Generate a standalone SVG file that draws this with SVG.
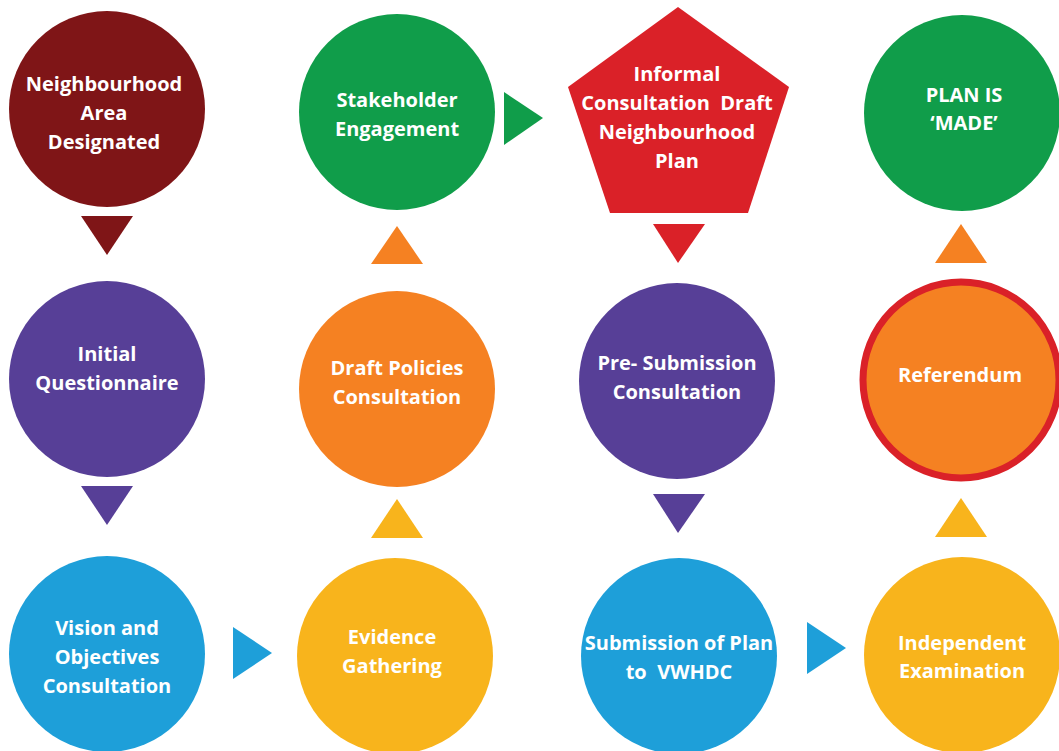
<svg xmlns="http://www.w3.org/2000/svg" width="1059" height="751" viewBox="0 0 1059 751">
<style>
text{font-family:"Open Sans","Noto Sans","Liberation Sans",sans-serif;font-weight:700;font-size:20px;fill:#ffffff;text-anchor:middle}
.dred{fill:#7f1517}.purple{fill:#573f97}.blue{fill:#1e9fd9}.green{fill:#109d4a}.orange{fill:#f58122}.yellow{fill:#f8b41c}.red{fill:#da2128}
</style>
<rect width="1059" height="751" fill="#ffffff"/>
<g id="connectors">
<polygon class="dred" points="81,216 133,216 107,255"/>
<polygon class="purple" points="81,486 133,486 107,525"/>
<polygon class="blue" points="233,627 233,679 272,653"/>
<polygon class="yellow" points="371,538 423,538 397,499"/>
<polygon class="orange" points="371,264 423,264 397,226"/>
<polygon class="green" points="504,92 504,145 543,118"/>
<polygon class="red" points="653,224 705,224 678,263"/>
<polygon class="purple" points="653,494 705,494 678,533"/>
<polygon class="blue" points="807,622 807,674 846,648"/>
<polygon class="yellow" points="935,537 987,537 961,498"/>
<polygon class="orange" points="935,263 987,263 961,224"/>
</g>
<g id="node-neighbourhood-area">
<circle class="dred" cx="107" cy="109" r="98"/>
<text x="104" y="91">Neighbourhood</text>
<text x="104" y="120">Area</text>
<text x="104" y="149">Designated</text>
</g>
<g id="node-initial-questionnaire">
<circle class="purple" cx="107" cy="379" r="98"/>
<text x="107" y="361">Initial</text>
<text x="107" y="390">Questionnaire</text>
</g>
<g id="node-vision">
<circle class="blue" cx="107" cy="654" r="98"/>
<text x="107" y="635">Vision and</text>
<text x="107" y="664">Objectives</text>
<text x="107" y="693">Consultation</text>
</g>
<g id="node-evidence">
<circle class="yellow" cx="395" cy="656" r="98"/>
<text x="392" y="644">Evidence</text>
<text x="392" y="673">Gathering</text>
</g>
<g id="node-draft-policies">
<circle class="orange" cx="397" cy="389" r="98"/>
<text x="397" y="375">Draft Policies</text>
<text x="397" y="404">Consultation</text>
</g>
<g id="node-stakeholder">
<circle class="green" cx="397" cy="112" r="98"/>
<text x="397" y="107">Stakeholder</text>
<text x="397" y="136">Engagement</text>
</g>
<g id="node-informal-consultation">
<polygon class="red" points="678,7 789,87 748,213 610,213 568,87"/>
<text x="677" y="81">Informal</text>
<text x="677" y="110" xml:space="preserve">Consultation  Draft</text>
<text x="677" y="139">Neighbourhood</text>
<text x="677" y="168">Plan</text>
</g>
<g id="node-pre-submission">
<circle class="purple" cx="677" cy="381" r="98"/>
<text x="677" y="370">Pre- Submission</text>
<text x="677" y="399">Consultation</text>
</g>
<g id="node-submission">
<circle class="blue" cx="679" cy="656" r="98"/>
<text x="679" y="650">Submission of Plan</text>
<text x="679" y="679" xml:space="preserve">to  VWHDC</text>
</g>
<g id="node-independent-examination">
<circle class="yellow" cx="962" cy="655" r="98"/>
<text x="962" y="650">Independent</text>
<text x="962" y="678">Examination</text>
</g>
<g id="node-referendum">
<circle class="orange" cx="961" cy="380" r="98" stroke="#da2128" stroke-width="7"/>
<text x="960" y="382">Referendum</text>
</g>
<g id="node-plan-made">
<circle class="green" cx="962" cy="113" r="98"/>
<text x="964" y="102">PLAN IS</text>
<text x="964" y="130">‘MADE’</text>
</g>
</svg>
